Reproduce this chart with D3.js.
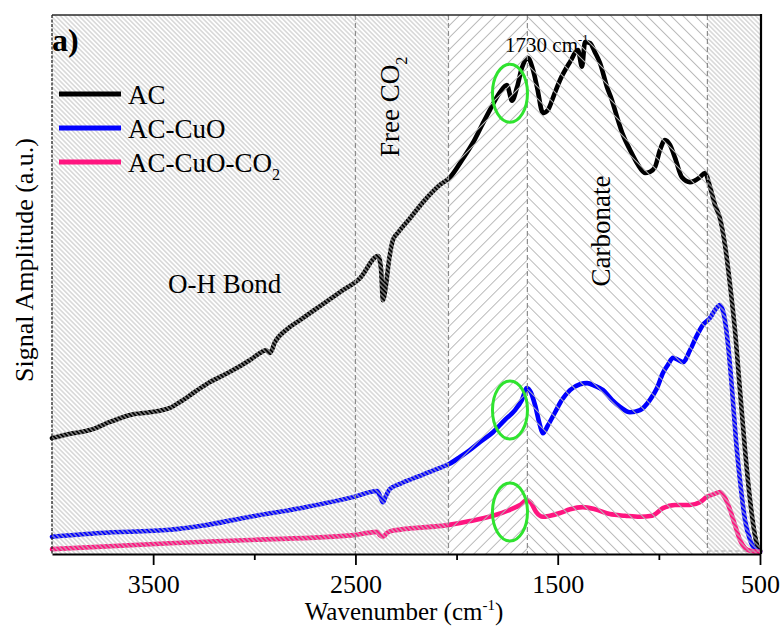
<!DOCTYPE html>
<html>
<head>
<meta charset="utf-8">
<script src="https://cdn.jsdelivr.net/npm/d3@7"></script>
<style>
  html, body { margin: 0; padding: 0; background: #fff; }
  svg { display: block; font-family: "Liberation Serif", "Times New Roman", serif; }
</style>
</head>
<body>
<svg id="chart" width="783" height="632"></svg>
<script>
// FTIR spectra: [wavenumber (cm-1), signal amplitude (a.u.)]
const acSpectrum = [
  [4000,21.5],[3911,22.3],[3812,23.0],[3713,24.5],[3614,25.8],[3516,26.3],[3417,27.1],[3367,28.2],
  [3293,30.1],[3219,31.9],[3120,33.8],[3021,36.0],[2962,37.5],[2942,37.8],[2922,37.3],[2898,39.3],
  [2838,41.7],[2774,43.4],[2675,46.0],[2576,48.6],[2477,51.2],[2388,55.3],[2374,53.1],[2364,47.1],
  [2349,49.9],[2334,54.5],[2314,58.3],[2290,59.6],[2230,62.3],[2156,65.7],[2082,68.5],[2032,69.9],
  [1973,73.1],[1919,76.3],[1874,79.6],[1835,82.4],[1785,85.7],[1751,87.0],[1726,84.1],[1701,86.6],
  [1677,90.2],[1647,92.0],[1622,89.8],[1602,86.6],[1573,81.8],[1548,82.4],[1518,85.2],[1489,87.9],
  [1439,91.3],[1400,93.5],[1380,90.4],[1365,95.0],[1340,94.8],[1316,93.1],[1291,91.1],[1256,86.6],
  [1232,84.2],[1207,81.1],[1177,77.7],[1143,75.0],[1103,72.2],[1069,70.7],[1044,70.9],[1019,71.8],
  [994,75.0],[970,76.8],[945,75.9],[920,73.5],[886,69.9],[846,69.0],[797,69.9],[772,70.7],
  [747,68.1],[722,64.7],[698,62.3],[673,57.3],[648,49.9],[624,41.6],[599,30.4],[574,19.3],
  [549,10.0],[525,3.5],[510,1.1],[500,0.6]
];
const acCuoSpectrum = [
  [4000,3.2],[3763,3.9],[3417,4.5],[3268,5.2],[3021,6.9],[2774,8.5],[2507,10.6],[2393,11.7],
  [2379,10.8],[2364,9.6],[2349,10.8],[2329,12.1],[2280,13.0],[2181,14.5],[2082,16.0],[2037,16.7],
  [1983,18.0],[1934,19.3],[1884,20.8],[1820,22.6],[1761,24.9],[1711,26.7],[1677,28.6],[1652,30.8],
  [1632,29.9],[1612,27.6],[1588,23.9],[1573,22.4],[1548,23.9],[1513,26.3],[1479,28.6],[1439,30.4],
  [1390,31.5],[1355,31.7],[1316,31.2],[1276,30.4],[1232,28.6],[1192,27.3],[1143,26.3],[1093,26.7],
  [1044,28.6],[1009,30.8],[980,33.6],[955,35.1],[930,36.4],[905,36.0],[881,35.6],[846,37.8],
  [811,40.6],[782,42.5],[747,43.8],[722,45.3],[698,46.2],[678,44.3],[658,38.8],[638,30.4],
  [619,21.2],[599,13.7],[574,6.3],[549,2.6],[525,0.9],[500,0.4]
];
const acCuoCo2Spectrum = [
  [4000,0.9],[3417,2.0],[3021,2.6],[2507,3.5],[2393,4.1],[2379,3.5],[2364,3.2],[2344,3.9],
  [2319,4.3],[2037,5.4],[1934,6.1],[1820,7.1],[1736,8.2],[1686,9.1],[1652,10.0],[1632,9.5],
  [1607,7.8],[1573,6.9],[1538,7.1],[1489,7.6],[1439,8.3],[1375,8.7],[1316,8.3],[1242,7.4],
  [1167,7.1],[1093,6.9],[1034,7.1],[980,8.5],[920,9.1],[846,9.1],[797,9.6],[762,10.6],
  [727,11.1],[698,11.5],[673,10.4],[648,8.2],[624,5.4],[599,2.6],[574,1.1],[549,0.6],[500,0.4]
];

const seriesNames = ["AC", "AC-CuO", "AC-CuO-CO2"];
const seriesColors = ["#000000", "#0000ff", "#ff1580"];
const spectra = [acSpectrum, acCuoSpectrum, acCuoCo2Spectrum];

// Band regions (cm-1 edges) and their hatch styles
const regionEdges = [4000, 2500, 2040, 1650, 760, 500];
const regionHatch = ["denseBack", "denseBack", "sparseFwd", "sparseBack", "denseBack"];

// Highlighted band at 1730 cm-1 (centre amplitude on each spectrum)
const markerWavenumber = 1736;
const markerAmplitudes = [85.5, 26.7, 7.8];

const majorTicks = [3500, 2500, 1500, 500];
const minorTicks = [3000, 2000, 1000];

const svg = d3.select("#chart");
const plotLeft = 52, plotRight = 760, plotTop = 15, plotBottom = 554;

const x = d3.scaleLinear().domain([4000, 500]).range([plotLeft, plotRight]);
const y = d3.scaleLinear().domain([0, 100]).range([plotBottom, plotTop]);

// hatch patterns
const defs = svg.append("defs");
function hatch(id, spacing, angle, colour) {
  const p = defs.append("pattern")
    .attr("id", id)
    .attr("patternUnits", "userSpaceOnUse")
    .attr("width", spacing).attr("height", spacing)
    .attr("patternTransform", `rotate(${angle})`);
  p.append("line")
    .attr("x1", spacing / 2).attr("y1", -1)
    .attr("x2", spacing / 2).attr("y2", spacing + 1)
    .attr("stroke", colour).attr("stroke-width", 1);
}
hatch("denseBack", 3.3, -45, "#c2c2c2");
hatch("sparseBack", 8.5, -45, "#b8b8b8");
hatch("sparseFwd", 8.5, 45, "#b8b8b8");

// spectra
const line = d3.line()
  .x(d => x(d[0]))
  .y(d => y(d[1]))
  .curve(d3.curveMonotoneX);

svg.append("g").selectAll("path")
  .data(spectra)
  .join("path")
  .attr("d", line)
  .attr("fill", "none")
  .attr("stroke", (d, i) => seriesColors[i])
  .attr("stroke-width", 4.6)
  .attr("stroke-linejoin", "round")
  .attr("stroke-linecap", "round");

// hatched band overlay
const regions = d3.range(regionEdges.length - 1).map(i => ({
  from: regionEdges[i], to: regionEdges[i + 1], pattern: regionHatch[i]
}));
svg.append("g").selectAll("rect")
  .data(regions)
  .join("rect")
  .attr("x", d => x(d.from))
  .attr("width", d => x(d.to) - x(d.from))
  .attr("y", plotTop)
  .attr("height", plotBottom - plotTop)
  .attr("fill", d => `url(#${d.pattern})`);

// band separators
svg.append("g").selectAll("line")
  .data(regionEdges.slice(1, -1))
  .join("line")
  .attr("x1", d => x(d)).attr("x2", d => x(d))
  .attr("y1", plotTop).attr("y2", plotBottom)
  .attr("stroke", "#8c8c8c")
  .attr("stroke-width", 1.2)
  .attr("stroke-dasharray", "5,3");
svg.append("line")
  .attr("x1", x(760)).attr("x2", x(500) - 2)
  .attr("y1", plotBottom - 3).attr("y2", plotBottom - 3)
  .attr("stroke", "#a8a8a8").attr("stroke-width", 1.2)
  .attr("stroke-dasharray", "4,3");

// frame
svg.append("line")
  .attr("x1", plotLeft).attr("x2", plotRight + 1).attr("y1", plotTop).attr("y2", plotTop)
  .attr("stroke", "#2a2a2a").attr("stroke-width", 1.6);
svg.append("line")
  .attr("x1", plotLeft).attr("x2", plotLeft).attr("y1", plotTop).attr("y2", plotBottom)
  .attr("stroke", "#222").attr("stroke-width", 1.3).attr("stroke-dasharray", "3,1.5");
svg.append("line")
  .attr("x1", plotRight + 1).attr("x2", plotRight + 1).attr("y1", plotTop - 1).attr("y2", plotBottom)
  .attr("stroke", "#000").attr("stroke-width", 2.2);

// x axis
const axisG = svg.append("g").attr("transform", `translate(0,${plotBottom})`);
axisG.call(d3.axisBottom(x).tickValues(majorTicks).tickSize(11).tickSizeOuter(0).tickFormat(d3.format("d")));
const minorG = svg.append("g").attr("transform", `translate(0,${plotBottom})`);
minorG.call(d3.axisBottom(x).tickValues(minorTicks).tickSize(6).tickSizeOuter(0).tickFormat(""));
minorG.select(".domain").remove();
[axisG, minorG].forEach(g => {
  g.select(".domain").attr("stroke", "#000").attr("stroke-width", 2.2);
  g.selectAll(".tick line").attr("stroke", "#000").attr("stroke-width", 1.8);
});
axisG.selectAll(".tick text")
  .attr("dy", null).attr("y", 39)
  .attr("font-size", 26)
  .attr("font-family", "Liberation Serif, Times New Roman, serif")
  .attr("fill", "#000");

// highlighted 1730 cm-1 band
svg.append("g").selectAll("ellipse")
  .data(markerAmplitudes)
  .join("ellipse")
  .attr("cx", x(markerWavenumber))
  .attr("cy", d => y(d))
  .attr("rx", 17.5).attr("ry", 29)
  .attr("fill", "none")
  .attr("stroke", "#2fe32f")
  .attr("stroke-width", 3);

// text helper with sub/superscripts: parts = [[text, "sub"|"sup"|null], ...]
function richText(g, parts, size) {
  const t = g.append("text").attr("font-size", size).attr("fill", "#000");
  let shift = 0;
  parts.forEach(([s, kind]) => {
    const ts = t.append("tspan").text(s);
    let target = 0;
    if (kind === "sub") target = size * 0.28;
    if (kind === "sup") target = -size * 0.42;
    ts.attr("dy", target - shift);
    if (kind) ts.attr("font-size", size * 0.6);
    shift = target;
  });
  return t;
}

// legend
const legend = svg.append("g");
seriesNames.forEach((name, i) => {
  const ly = 94 + i * 34;
  legend.append("line")
    .attr("x1", 59).attr("x2", 121).attr("y1", ly).attr("y2", ly)
    .attr("stroke", seriesColors[i]).attr("stroke-width", 5);
  const parts = name.endsWith("CO2") ? [[name.slice(0, -1), null], ["2", "sub"]] : [[name, null]];
  richText(legend.append("g").attr("transform", `translate(128,${ly + 10})`), parts, 27);
});

// panel tag
svg.append("text").attr("x", 52).attr("y", 51)
  .attr("font-size", 32).attr("font-weight", "bold").text("a)");

// band annotations
richText(svg.append("g").attr("transform", `translate(${x(3147)},${y(48.4)})`), [["O-H Bond", null]], 27)
  .attr("text-anchor", "middle");
richText(svg.append("g").attr("transform", `translate(399,157) rotate(-90)`), [["Free CO", null], ["2", "sub"]], 27);
richText(svg.append("g").attr("transform", `translate(610,231) rotate(-90)`), [["Carbonate", null]], 27)
  .attr("text-anchor", "middle");
richText(svg.append("g").attr("transform", `translate(${x(1760)},52)`), [["1730 cm", null], ["-1", "sup"]], 21);

// axis titles
richText(svg.append("g").attr("transform", `translate(404,620)`), [["Wavenumber (cm", null], ["-1", "sup"], [")", null]], 25)
  .attr("text-anchor", "middle");
richText(svg.append("g").attr("transform", `translate(33,260) rotate(-90)`), [["Signal Amplitude (a.u.)", null]], 26)
  .attr("text-anchor", "middle");
</script>
</body>
</html>
